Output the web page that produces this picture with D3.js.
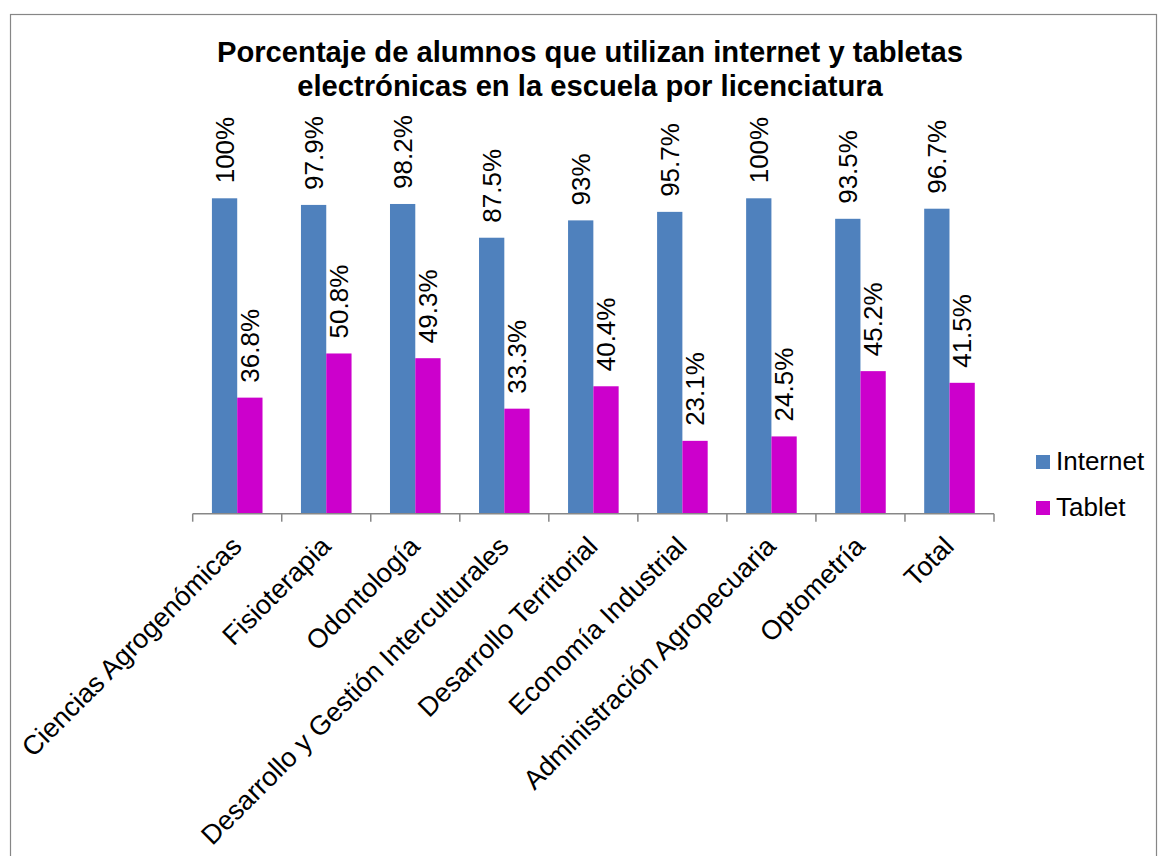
<!DOCTYPE html>
<html>
<head>
<meta charset="utf-8">
<script src="https://cdn.jsdelivr.net/npm/d3@7"></script>
<style>
  html, body { margin: 0; padding: 0; background: #fff; }
  svg { display: block; font-family: "Liberation Sans", Arial, sans-serif; }
</style>
</head>
<body>
<svg id="chart" width="1158" height="856"></svg>
<script>
// Licenciaturas (categories) and percentage of students per series
const categories = [
  "Ciencias Agrogenómicas",
  "Fisioterapia",
  "Odontología",
  "Desarrollo y Gestión Interculturales",
  "Desarrollo Territorial",
  "Economía Industrial",
  "Administración Agropecuaria",
  "Optometría",
  "Total"
];
const seriesNames = ["Internet", "Tablet"];
const internetValues = [100, 97.9, 98.2, 87.5, 93, 95.7, 100, 93.5, 96.7];
const tabletValues = [36.8, 50.8, 49.3, 33.3, 40.4, 23.1, 24.5, 45.2, 41.5];
const valueLabelsInternet = ["100%", "97.9%", "98.2%", "87.5%", "93%", "95.7%", "100%", "93.5%", "96.7%"];
const valueLabelsTablet = ["36.8%", "50.8%", "49.3%", "33.3%", "40.4%", "23.1%", "24.5%", "45.2%", "41.5%"];
const titleLines = [
  "Porcentaje de alumnos que utilizan internet y tabletas",
  "electrónicas en la escuela por licenciatura"
];

const colors = { Internet: "#4F81BD", Tablet: "#CC00CC" };

const rows = categories.map((c, i) => ({
  category: c,
  values: [
    { key: "Internet", value: internetValues[i], label: valueLabelsInternet[i] },
    { key: "Tablet", value: tabletValues[i], label: valueLabelsTablet[i] }
  ]
}));

const svg = d3.select("#chart");

// Outer chart frame
svg.append("rect")
  .attr("x", 10.5).attr("y", 14.5)
  .attr("width", 1146).attr("height", 900)
  .attr("fill", "#fff")
  .attr("stroke", "#868686")
  .attr("stroke-width", 1.2);

// Title
svg.append("text")
  .attr("x", 590)
  .attr("text-anchor", "middle")
  .attr("font-size", 29.2)
  .attr("font-weight", "bold")
  .attr("fill", "#000")
  .selectAll("tspan")
  .data(titleLines)
  .join("tspan")
  .attr("x", 590)
  .attr("y", (d, i) => 62 + i * 34)
  .text(d => d);

// Scales
const x0 = d3.scaleBand()
  .domain(categories)
  .range([192.7, 994])
  .padding(0);

const x1 = d3.scaleBand()
  .domain(seriesNames)
  .range([0, x0.bandwidth()])
  .paddingInner(0)
  .paddingOuter(0.76);

const y = d3.scaleLinear()
  .domain([0, 100])
  .range([513.7, 198.3]);

// Bars
const groups = svg.append("g")
  .selectAll("g")
  .data(rows)
  .join("g")
  .attr("transform", d => `translate(${x0(d.category)},0)`);

groups.selectAll("rect")
  .data(d => d.values)
  .join("rect")
  .attr("x", d => x1(d.key))
  .attr("y", d => y(d.value))
  .attr("width", x1.bandwidth())
  .attr("height", d => y(0) - y(d.value))
  .attr("fill", d => colors[d.key]);

// Data labels, rotated vertically above each bar
groups.selectAll("text")
  .data(d => d.values)
  .join("text")
  .attr("transform", d => `translate(${x1(d.key) + x1.bandwidth() / 2},${y(d.value) - 15}) rotate(-90)`)
  .attr("dy", "0.35em")
  .attr("text-anchor", "start")
  .attr("font-size", 26)
  .attr("fill", "#000")
  .text(d => d.label);

// Category axis with ticks at band boundaries
const axisG = svg.append("g");
const boundaries = categories.map(c => x0(c)).concat([x0.range()[1]]);
axisG.append("line")
  .attr("x1", x0.range()[0]).attr("x2", x0.range()[1])
  .attr("y1", y(0)).attr("y2", y(0))
  .attr("stroke", "#878787").attr("stroke-width", 1.5);
axisG.selectAll("line.tick")
  .data(boundaries)
  .join("line")
  .attr("class", "tick")
  .attr("x1", d => d).attr("x2", d => d)
  .attr("y1", y(0)).attr("y2", y(0) + 8)
  .attr("stroke", "#878787").attr("stroke-width", 1.5);

axisG.selectAll("text")
  .data(categories)
  .join("text")
  .attr("transform", d => `translate(${x0(d) + x0.bandwidth() / 2 + 6},548) rotate(-45)`)
  .attr("text-anchor", "end")
  .attr("font-size", 27)
  .attr("fill", "#000")
  .text(d => d);

// Legend
const legend = svg.append("g")
  .selectAll("g")
  .data(seriesNames)
  .join("g")
  .attr("transform", (d, i) => `translate(1036,${455 + i * 46})`);
legend.append("rect")
  .attr("width", 14).attr("height", 14)
  .attr("fill", d => colors[d]);
legend.append("text")
  .attr("x", 20).attr("y", 15)
  .attr("font-size", 26)
  .attr("fill", "#000")
  .text(d => d);
</script>
</body>
</html>
